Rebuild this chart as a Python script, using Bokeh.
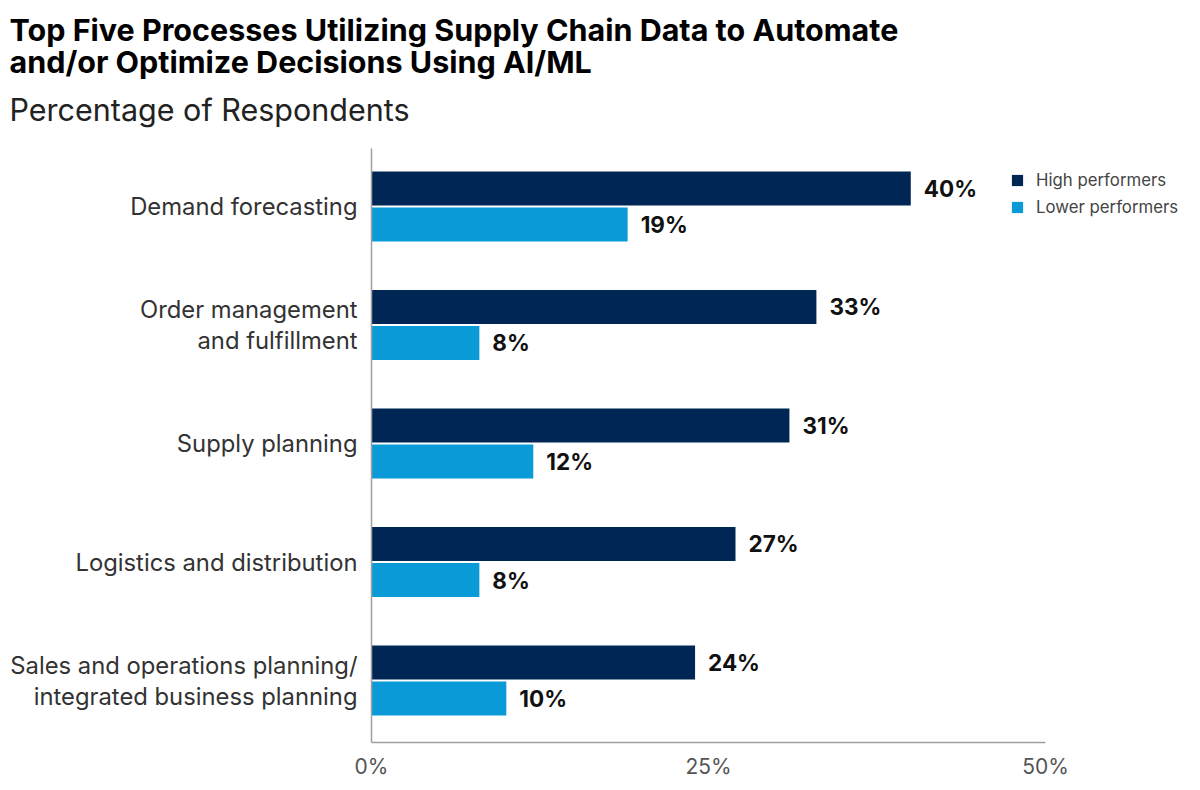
from bokeh.plotting import figure
from bokeh.models import Range1d, FixedTicker, Title, Legend, LegendItem, ColumnDataSource
from bokeh.core.properties import value
from bokeh.embed import file_html
from bokeh.resources import INLINE

# ---- data ----
categories = [
    "Demand forecasting",
    "Order management\nand fulfillment",
    "Supply planning",
    "Logistics and distribution",
    "Sales and operations planning/\nintegrated business planning",
]
high_performers = [40, 33, 31, 27, 24]
lower_performers = [19, 8, 12, 8, 10]
series_names = ["High performers", "Lower performers"]
x_ticks = [0, 25, 50]
x_tick_labels = ["0%", "25%", "50%"]

title_text = "Top Five Processes Utilizing Supply Chain Data to Automate\nand/or Optimize Decisions Using AI/ML"
subtitle = "Percentage of Respondents"

# ---- style ----
DARK = "#002656"
LIGHT = "#0a9ad8"
FONT = "Inter"
BAR_H = 0.287
OFF = 0.152

n = len(categories)
ypos = [n - 1 - i for i in range(n)]

src_high = ColumnDataSource(dict(
    y=[y + OFF for y in ypos], v=high_performers,
    lab=[f"{v}%" for v in high_performers]))
src_low = ColumnDataSource(dict(
    y=[y - OFF for y in ypos], v=lower_performers,
    lab=[f"{v}%" for v in lower_performers]))

p = figure(
    frame_width=817, frame_height=594,
    min_border_left=371, min_border_right=4, min_border_top=148, min_border_bottom=40,
    x_range=Range1d(0, 60.6), y_range=Range1d(-0.523, 4.489),
    output_backend="svg", toolbar_location=None, title=None,
    background_fill_color="white", border_fill_color="white",
)
p.outline_line_color = None
p.grid.visible = False

r_high = p.hbar(y="y", left=0, right="v", height=BAR_H, source=src_high,
                fill_color=DARK, line_color=None)
r_low = p.hbar(y="y", left=0, right="v", height=BAR_H, source=src_low,
               fill_color=LIGHT, line_color=None)

for src in (src_high, src_low):
    p.text(x="v", y="y", text="lab", source=src, x_offset=13,
           text_baseline="middle", text_align="left",
           text_font=value(FONT), text_font_style="bold",
           text_font_size="22.5px", text_color="#111111")

# axes
xa = p.xaxis[0]
xa.ticker = FixedTicker(ticks=x_ticks)
xa.major_label_overrides = {t: l for t, l in zip(x_ticks, x_tick_labels)}
xa.bounds = (0, 50)
xa.axis_line_color = "#a0a0a0"
xa.axis_line_width = 1.5
xa.major_tick_line_color = None
xa.minor_tick_line_color = None
xa.major_label_text_font = FONT
xa.major_label_text_font_size = "21px"
xa.major_label_text_color = "#555555"
xa.major_label_standoff = 5

ya = p.yaxis[0]
ya.ticker = FixedTicker(ticks=ypos)
ya.major_label_overrides = {y: c for y, c in zip(ypos, categories)}
ya.axis_line_color = "#a0a0a0"
ya.axis_line_width = 1.5
ya.major_tick_line_color = None
ya.minor_tick_line_color = None
ya.major_label_text_font = FONT
ya.major_label_text_font_size = "23.8px"
ya.major_label_text_color = "#333333"
ya.major_label_text_line_height = 1.07
ya.major_label_standoff = 8

legend = Legend(
    items=[LegendItem(label=series_names[0], renderers=[r_high]),
           LegendItem(label=series_names[1], renderers=[r_low])],
    location=(639, 525), orientation="vertical",
    glyph_width=14, glyph_height=14, label_height=20, spacing=7,
    label_standoff=12, padding=0, margin=0,
    label_text_font=FONT, label_text_font_size="16.8px", label_text_color="#444444",
    border_line_color=None, background_fill_alpha=0,
)
p.add_layout(legend, "center")

# titles (first added = closest to frame)
p.add_layout(Title(text=subtitle, text_font=FONT, text_font_style="normal",
                   text_font_size="30.5px", text_color="#222222", align="left",
                   offset=-362, standoff=41), "above")
p.add_layout(Title(text=title_text, text_font=FONT, text_font_style="bold",
                   text_font_size="30.5px", text_color="#000000", align="left",
                   text_line_height=0.86, offset=-362, standoff=-23), "above")

open("out.html", "w").write(file_html(p, INLINE))
